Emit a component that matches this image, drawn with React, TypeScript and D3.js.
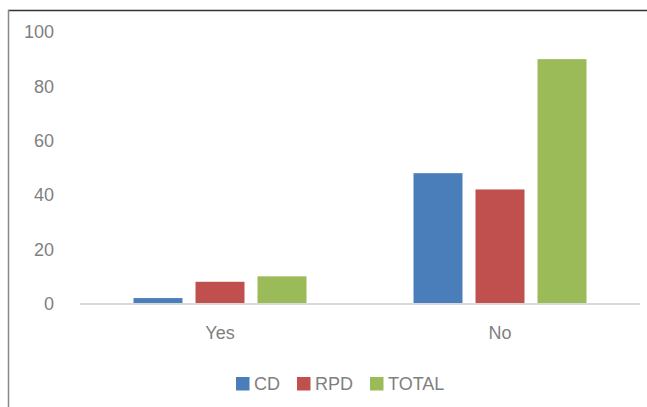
import React from "react";
import * as d3 from "d3";

const categories = ["Yes", "No"];
const seriesNames = ["CD", "RPD", "TOTAL"];
const cdValues = [2, 48];
const rpdValues = [8, 42];
const totalValues = [10, 90];
const yTicks = [0, 20, 40, 60, 80, 100];

const colors = ["#4a7ebb", "#c0504d", "#9bbb59"];
const W = 647;
const H = 407;

export default function App() {
  const series = [cdValues, rpdValues, totalValues];
  const x = d3.scaleBand<string>().domain(categories).range([80, 640]);
  const y = d3.scaleLinear().domain([0, 100]).range([303.5, 32]);
  const barW = 49;
  const step = 62;
  const font = "'Liberation Sans', Arial, sans-serif";
  const legendItems = [
    { x: 236, label: seriesNames[0] },
    { x: 297, label: seriesNames[1] },
    { x: 370, label: seriesNames[2] },
  ];
  return (
    <svg
      width={W}
      height={H}
      style={{ position: "fixed", left: 0, top: 0, background: "#fff" }}
      fontFamily={font}
    >
      {/* frame edges */}
      <line x1={8} x2={W} y1={10.5} y2={10.5} stroke="#333" strokeWidth={1.5} />
      <line x1={8.5} x2={8.5} y1={10} y2={H} stroke="#888" strokeWidth={1.5} />

      {/* y tick labels */}
      {yTicks.map((t) => (
        <text
          key={t}
          x={54}
          y={y(t)}
          dy="0.36em"
          textAnchor="end"
          fontSize={18}
          fill="#7f7f7f"
        >
          {t}
        </text>
      ))}

      {/* bars */}
      {categories.map((c, ci) => {
        const cx = (x(c) as number) + x.bandwidth() / 2;
        return series.map((vals, si) => (
          <rect
            key={c + si}
            x={cx + (si - 1) * step - barW / 2}
            y={y(vals[ci])}
            width={barW}
            height={y(0) - y(vals[ci])}
            fill={colors[si]}
          />
        ));
      })}

      {/* baseline */}
      <line x1={80} x2={640} y1={304} y2={304} stroke="#d9d9d9" strokeWidth={2} />

      {/* category labels */}
      {categories.map((c) => (
        <text
          key={c}
          x={(x(c) as number) + x.bandwidth() / 2}
          y={333}
          dy="0.36em"
          textAnchor="middle"
          fontSize={18}
          fill="#7f7f7f"
        >
          {c}
        </text>
      ))}

      {/* legend */}
      {legendItems.map((it, i) => (
        <g key={it.label}>
          <rect x={it.x} y={377} width={13.5} height={13.5} fill={colors[i]} />
          <text x={it.x + 18} y={384} dy="0.36em" fontSize={18} fill="#7f7f7f">
            {it.label}
          </text>
        </g>
      ))}
    </svg>
  );
}
